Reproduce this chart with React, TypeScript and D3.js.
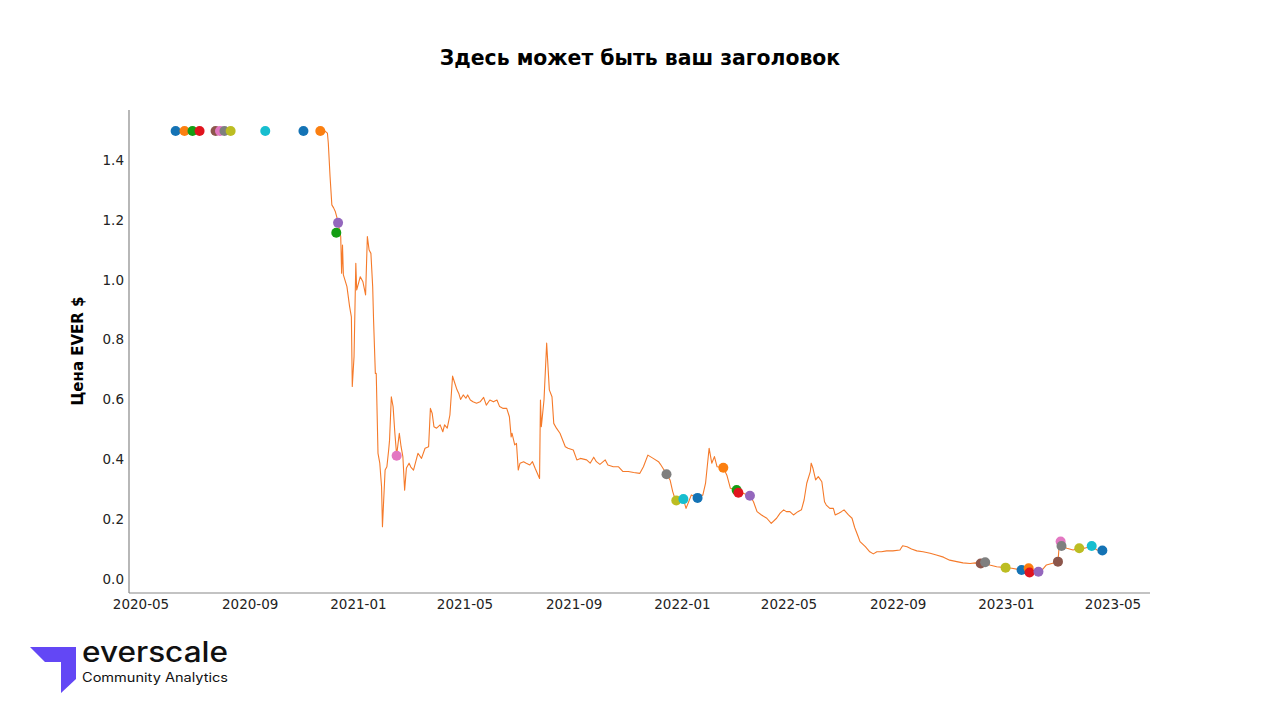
import React from 'react';
import * as d3 from 'd3';

const TITLE = 'Здесь может быть ваш заголовок';
const Y_LABEL = 'Цена EVER $';
const yTickValues = [0, 0.2, 0.4, 0.6, 0.8, 1.0, 1.2, 1.4];
const xTickLabels = ['2020-05', '2020-09', '2021-01', '2021-05', '2021-09', '2022-01', '2022-05', '2022-09', '2023-01', '2023-05'];

// EVER price (date, USD)
const priceSeries: [string, number][] = [
  ['2020-11-24', 1.497], ['2020-11-27', 1.49], ['2020-11-28', 1.457], ['2020-11-30', 1.344], ['2020-12-02', 1.25],
  ['2020-12-04', 1.24], ['2020-12-06', 1.227], ['2020-12-07', 1.216], ['2020-12-09', 1.193], ['2020-12-11', 1.159],
  ['2020-12-12', 1.144], ['2020-12-13', 1.022], ['2020-12-14', 1.116], ['2020-12-15', 1.016], ['2020-12-19', 0.977],
  ['2020-12-22', 0.91], ['2020-12-24', 0.876], ['2020-12-25', 0.643], ['2020-12-27', 0.743], ['2020-12-29', 1.055],
  ['2020-12-30', 0.966], ['2021-01-01', 0.988], ['2021-01-03', 1.01], ['2021-01-06', 0.993], ['2021-01-09', 0.949],
  ['2021-01-11', 1.144], ['2021-01-13', 1.099], ['2021-01-15', 1.088], ['2021-01-17', 0.977], ['2021-01-18', 0.865],
  ['2021-01-20', 0.687], ['2021-01-21', 0.687], ['2021-01-23', 0.42], ['2021-01-25', 0.387], ['2021-01-27', 0.308],
  ['2021-01-28', 0.175], ['2021-01-31', 0.364], ['2021-02-02', 0.375], ['2021-02-04', 0.431], ['2021-02-05', 0.464],
  ['2021-02-07', 0.609], ['2021-02-09', 0.576], ['2021-02-11', 0.487], ['2021-02-13', 0.414], ['2021-02-16', 0.487],
  ['2021-02-18', 0.442], ['2021-02-20', 0.409], ['2021-02-22', 0.297], ['2021-02-24', 0.371], ['2021-02-27', 0.387],
  ['2021-03-01', 0.374], ['2021-03-04', 0.364], ['2021-03-08', 0.409], ['2021-03-09', 0.42], ['2021-03-13', 0.403],
  ['2021-03-17', 0.437], ['2021-03-21', 0.442], ['2021-03-23', 0.57], ['2021-03-25', 0.554], ['2021-03-27', 0.509],
  ['2021-03-30', 0.504], ['2021-04-03', 0.515], ['2021-04-06', 0.492], ['2021-04-08', 0.515], ['2021-04-11', 0.504],
  ['2021-04-14', 0.548], ['2021-04-17', 0.678], ['2021-04-19', 0.659], ['2021-04-22', 0.632], ['2021-04-24', 0.62],
  ['2021-04-26', 0.6], ['2021-04-29', 0.615], ['2021-05-02', 0.604], ['2021-05-04', 0.615], ['2021-05-07', 0.598],
  ['2021-05-10', 0.592], ['2021-05-14', 0.587], ['2021-05-18', 0.592], ['2021-05-22', 0.607], ['2021-05-25', 0.581],
  ['2021-05-29', 0.598], ['2021-06-02', 0.592], ['2021-06-06', 0.598], ['2021-06-09', 0.576], ['2021-06-13', 0.57],
  ['2021-06-17', 0.57], ['2021-06-20', 0.542], ['2021-06-22', 0.475], ['2021-06-23', 0.487], ['2021-06-26', 0.448],
  ['2021-06-28', 0.453], ['2021-06-30', 0.364], ['2021-07-02', 0.387], ['2021-07-06', 0.392], ['2021-07-09', 0.387],
  ['2021-07-13', 0.381], ['2021-07-16', 0.392], ['2021-07-19', 0.37], ['2021-07-24', 0.336], ['2021-07-25', 0.598],
  ['2021-07-26', 0.509], ['2021-07-29', 0.598], ['2021-08-01', 0.788], ['2021-08-04', 0.632], ['2021-08-07', 0.609],
  ['2021-08-09', 0.52], ['2021-08-12', 0.504], ['2021-08-16', 0.487], ['2021-08-22', 0.442], ['2021-08-25', 0.437],
  ['2021-08-31', 0.431], ['2021-09-04', 0.398], ['2021-09-08', 0.403], ['2021-09-15', 0.398], ['2021-09-19', 0.387],
  ['2021-09-23', 0.407], ['2021-09-26', 0.392], ['2021-09-30', 0.383], ['2021-10-06', 0.398], ['2021-10-09', 0.381],
  ['2021-10-15', 0.375], ['2021-10-21', 0.375], ['2021-10-26', 0.359], ['2021-11-01', 0.359], ['2021-11-07', 0.356],
  ['2021-11-14', 0.353], ['2021-11-18', 0.375], ['2021-11-23', 0.414], ['2021-11-29', 0.403], ['2021-12-05', 0.392],
  ['2021-12-07', 0.384], ['2021-12-10', 0.37], ['2021-12-14', 0.35], ['2021-12-18', 0.331], ['2021-12-21', 0.292],
  ['2021-12-24', 0.264], ['2021-12-26', 0.261], ['2022-01-02', 0.267], ['2022-01-05', 0.236], ['2022-01-08', 0.258],
  ['2022-01-11', 0.281], ['2022-01-18', 0.271], ['2022-01-24', 0.281], ['2022-01-27', 0.32], ['2022-01-31', 0.437],
  ['2022-02-03', 0.387], ['2022-02-06', 0.409], ['2022-02-09', 0.375], ['2022-02-12', 0.374], ['2022-02-16', 0.372],
  ['2022-02-20', 0.347], ['2022-02-24', 0.303], ['2022-02-27', 0.301], ['2022-03-03', 0.297], ['2022-03-05', 0.288],
  ['2022-03-11', 0.286], ['2022-03-18', 0.278], ['2022-03-22', 0.258], ['2022-03-26', 0.225], ['2022-03-31', 0.214],
  ['2022-04-06', 0.203], ['2022-04-11', 0.186], ['2022-04-17', 0.203], ['2022-04-21', 0.22], ['2022-04-25', 0.231],
  ['2022-04-28', 0.225], ['2022-05-02', 0.225], ['2022-05-06', 0.214], ['2022-05-11', 0.225], ['2022-05-15', 0.231],
  ['2022-05-18', 0.264], ['2022-05-21', 0.32], ['2022-05-25', 0.359], ['2022-05-26', 0.387], ['2022-05-28', 0.37],
  ['2022-05-31', 0.331], ['2022-06-03', 0.342], ['2022-06-07', 0.325], ['2022-06-10', 0.258], ['2022-06-12', 0.247],
  ['2022-06-16', 0.236], ['2022-06-20', 0.236], ['2022-06-22', 0.214], ['2022-06-26', 0.22], ['2022-06-29', 0.225],
  ['2022-07-02', 0.231], ['2022-07-07', 0.214], ['2022-07-11', 0.203], ['2022-07-14', 0.172], ['2022-07-18', 0.141],
  ['2022-07-20', 0.125], ['2022-07-26', 0.108], ['2022-07-31', 0.091], ['2022-08-04', 0.084], ['2022-08-08', 0.091],
  ['2022-08-13', 0.091], ['2022-08-19', 0.094], ['2022-08-26', 0.094], ['2022-09-03', 0.097], ['2022-09-06', 0.111],
  ['2022-09-11', 0.108], ['2022-09-16', 0.1], ['2022-09-22', 0.094], ['2022-09-29', 0.091], ['2022-10-07', 0.086],
  ['2022-10-14', 0.08], ['2022-10-22', 0.073], ['2022-10-29', 0.063], ['2022-11-06', 0.058], ['2022-11-13', 0.054],
  ['2022-11-21', 0.052], ['2022-11-27', 0.054], ['2022-12-03', 0.052], ['2022-12-08', 0.056], ['2022-12-13', 0.047],
  ['2022-12-21', 0.041], ['2022-12-31', 0.038], ['2023-01-07', 0.036], ['2023-01-14', 0.032], ['2023-01-18', 0.03],
  ['2023-01-26', 0.036], ['2023-01-27', 0.022], ['2023-02-06', 0.024], ['2023-02-10', 0.03], ['2023-02-15', 0.047],
  ['2023-02-21', 0.052], ['2023-02-28', 0.058], ['2023-03-01', 0.097], ['2023-03-03', 0.125], ['2023-03-04', 0.11],
  ['2023-03-10', 0.103], ['2023-03-17', 0.097], ['2023-03-24', 0.103], ['2023-03-30', 0.103], ['2023-04-07', 0.11],
  ['2023-04-13', 0.097], ['2023-04-19', 0.095],
];

// Events: date, price, colour-cycle index
const eventDates = [
  '2020-06-09', '2020-06-19', '2020-06-28', '2020-07-06', '2020-07-24', '2020-07-29', '2020-08-03', '2020-08-10',
  '2020-09-18', '2020-10-31', '2020-11-19', '2020-12-07', '2020-12-09', '2021-02-13', '2021-12-14', '2021-12-25',
  '2022-01-02', '2022-01-18', '2022-02-16', '2022-03-03', '2022-03-05', '2022-03-18', '2022-12-03', '2022-12-08',
  '2022-12-31', '2023-01-18', '2023-01-26', '2023-01-27', '2023-02-06', '2023-02-28', '2023-03-03', '2023-03-04',
  '2023-03-24', '2023-04-07', '2023-04-19',
];
const eventValues = [
  1.497, 1.497, 1.497, 1.497, 1.497, 1.497, 1.497, 1.497,
  1.497, 1.497, 1.497, 1.157, 1.19, 0.412, 0.35, 0.262,
  0.267, 0.271, 0.372, 0.297, 0.288, 0.278, 0.052, 0.056,
  0.038, 0.03, 0.036, 0.022, 0.024, 0.058, 0.125, 0.11,
  0.103, 0.11, 0.095,
];
const eventColorIndex = [
  0, 1, 2, 3, 5, 6, 7, 8,
  9, 0, 1, 2, 4, 6, 7, 8,
  9, 0, 1, 2, 3, 4, 5, 7,
  8, 0, 1, 3, 4, 5, 6, 7,
  8, 9, 0,
];
const palette = ['#1473b5', '#fb7f10', '#149e14', '#e0141e', '#9467bd', '#8c564b', '#e377c2', '#7f7f7f', '#bcbd22', '#17becf'];

export default function App() {
  const W = 1280;
  const H = 722;
  const left = 129, right = 1150, top = 110, bottom = 593;
  const parse = d3.utcParse('%Y-%m-%d');
  const x = d3.scaleUtc()
    .domain([parse('2020-05-01') as Date, parse('2023-05-01') as Date])
    .range([141, 1113]);
  const y = d3.scaleLinear().domain([0, 1.4]).range([579, 160]);

  const xTicks = xTickLabels.map((s) => ({ label: s, d: d3.utcParse('%Y-%m')(s) as Date }));
  const line = d3.line<[string, number]>()
    .x((d) => x(parse(d[0]) as Date))
    .y((d) => y(d[1]));

  const font = 'DejaVu Sans, sans-serif';

  return (
    <svg width={W} height={H} style={{ position: 'absolute', left: 0, top: 0, background: '#fff' }}>
      <rect x={0} y={0} width={W} height={H} fill="#fff" />
      <text x={640} y={65} textAnchor="middle" fontFamily={font} fontWeight="bold" fontSize={20.4} fill="#000">{TITLE}</text>

      {/* axes */}
      <line x1={left} y1={top} x2={left} y2={bottom} stroke="#888" strokeWidth={1.2} />
      <line x1={left} y1={bottom} x2={right} y2={bottom} stroke="#888" strokeWidth={1.2} />

      {yTickValues.map((v) => (
        <text key={v} x={124} y={y(v) + 4.8} textAnchor="end" fontFamily={font} fontSize={13.5} fill="#222">
          {d3.format('.1f')(v)}
        </text>
      ))}
      {xTicks.map((t) => (
        <text key={t.label} x={x(t.d)} y={609} textAnchor="middle" fontFamily={font} fontSize={13.5} fill="#222">
          {t.label}
        </text>
      ))}
      <text transform={`translate(83,351) rotate(-90)`} textAnchor="middle" fontFamily={font} fontWeight="bold" fontSize={15} fill="#000">
        {Y_LABEL}
      </text>

      <path d={line(priceSeries) || ''} fill="none" stroke="#f57a2a" strokeWidth={1.1} strokeLinejoin="round" />

      {eventDates.map((d, i) => (
        <circle key={i} cx={x(parse(d) as Date)} cy={y(eventValues[i])} r={5} fill={palette[eventColorIndex[i]]} />
      ))}

      {/* logo */}
      <polygon points="30,647 76,647 76,679 61,693 61,662 45,662" fill="#6347f5" />
      <text x={82} y={662} fontFamily="Inter, sans-serif" fontSize={28} fontWeight={500} fill="#111" textLength={146} lengthAdjust="spacingAndGlyphs">everscale</text>
      <text x={82} y={682} fontFamily="Inter, sans-serif" fontSize={12.5} fill="#111" textLength={146} lengthAdjust="spacingAndGlyphs">Community Analytics</text>
    </svg>
  );
}
